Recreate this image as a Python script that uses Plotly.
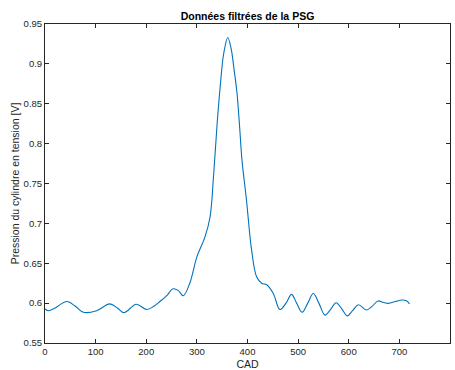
import plotly.graph_objects as go

cad = [0, 7, 20, 43, 60, 76, 102, 128, 143, 156, 180, 201, 215, 227, 240, 253, 263, 273,
       286, 300, 316, 326, 333, 340, 346, 353, 361, 368, 373, 379, 384, 389, 398, 408,
       418, 428, 438, 451, 464, 476, 487, 497, 508, 519, 530, 541, 553, 564, 575, 586,
       597, 608, 619, 635, 646, 658, 668, 678, 692, 705, 714, 720]
pression = [0.5926, 0.5905, 0.594, 0.602, 0.596, 0.5885, 0.5905, 0.599, 0.594, 0.588,
            0.5985, 0.592, 0.596, 0.602, 0.609, 0.618, 0.616, 0.6093, 0.625, 0.658,
            0.683, 0.708, 0.76, 0.825, 0.871, 0.913, 0.933, 0.918, 0.895, 0.865, 0.825,
            0.78, 0.729, 0.667, 0.633, 0.625, 0.623, 0.612, 0.592, 0.600, 0.611, 0.600,
            0.5885, 0.600, 0.612, 0.600, 0.585, 0.592, 0.6005, 0.593, 0.584, 0.591,
            0.598, 0.5914, 0.596, 0.6027, 0.601, 0.5997, 0.602, 0.604, 0.603, 0.599]

x_ticks = [0, 100, 200, 300, 400, 500, 600, 700, 800]
y_ticks = [0.55, 0.6, 0.65, 0.7, 0.75, 0.8, 0.85, 0.9, 0.95]

fig = go.Figure()
fig.add_trace(go.Scatter(x=cad, y=pression, mode="lines",
                         line=dict(color="#0072BD", width=1.1, shape="spline", smoothing=1.0),
                         showlegend=False, hoverinfo="skip"))

axis_common = dict(showgrid=False, zeroline=False, showline=True, linecolor="#262626",
                   linewidth=1, mirror="ticks", ticks="inside", ticklen=4, tickwidth=1,
                   tickcolor="#262626",
                   tickfont=dict(family="Liberation Sans, Arial, sans-serif", size=9.5, color="#262626"))

fig.update_layout(
    width=455, height=370,
    margin=dict(l=45, r=5, t=24, b=27),
    paper_bgcolor="white", plot_bgcolor="white",
    title=dict(text="<b>Données filtrées de la PSG</b>", x=0.5, xanchor="center",
               xref="paper", y=1, yref="paper", yanchor="bottom", pad=dict(b=4),
               font=dict(family="Liberation Sans, Arial, sans-serif", size=10.5, color="black")),
    xaxis=dict(range=[0, 800], tickvals=x_ticks, ticktext=[str(v) for v in x_ticks],
               title=dict(text="CAD", standoff=7,
                          font=dict(family="Liberation Sans, Arial, sans-serif", size=10.5, color="#262626")),
               automargin=False, **axis_common),
    yaxis=dict(range=[0.55, 0.95], tickvals=y_ticks, ticktext=[f"{v:g}" for v in y_ticks],
               title=dict(text="Pression du cylindre en tension [V]", standoff=1,
                          font=dict(family="Liberation Sans, Arial, sans-serif", size=10.5, color="#262626")),
               automargin=False, **axis_common),
)

fig.write_html("out.html")
